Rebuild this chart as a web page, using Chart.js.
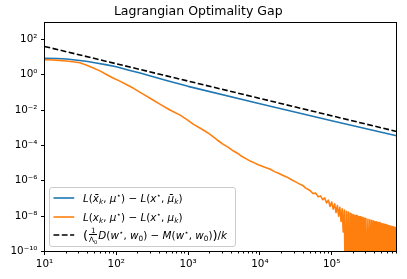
<!DOCTYPE html>
<html><head><meta charset="utf-8">
<script src="https://cdn.jsdelivr.net/npm/chart.js@4.4.0/dist/chart.umd.min.js"></script>
<style>
html,body{margin:0;padding:0;background:#fff;}
#wrap{position:relative;width:407px;height:279px;}
#legend{position:absolute;left:49px;top:187px;width:187px;height:60px;box-sizing:border-box;border:1px solid #cccccc;border-radius:3px;background:rgba(255,255,255,0.8);font-family:'DejaVu Sans';font-size:10.4px;color:#000;}
.row{position:absolute;left:0;width:185px;height:18px;}
.row svg{position:absolute;left:3px;top:7px;}
.t{position:absolute;left:33px;top:0;line-height:18px;white-space:nowrap;}
.t i{font-style:italic;}
sub,sup{font-size:0.7em;line-height:0;}
sub{vertical-align:-0.3em;}
sup{vertical-align:0.55em;}
.big{font-size:13px;position:relative;top:0.5px;}
.frac{display:inline-flex;flex-direction:column;align-items:center;font-size:7.3px;line-height:1;vertical-align:middle;margin:0 1px 0 1px;position:relative;top:-1px;}
.den{border-top:0.8px solid #000;padding-top:0.5px;}
</style>
</head><body>
<div id="wrap">
<canvas id="c" width="407" height="279"></canvas>
<div id="legend">
  <div class="row" style="top:1px">
    <svg width="22" height="4"><line x1="0.5" y1="2" x2="21.2" y2="2" stroke="#1f77b4" stroke-width="1.6"/></svg>
    <span class="t"><i>L</i>(<i>x̄</i><sub><i>k</i></sub>, <i>μ</i><sup>⋆</sup>) − <i>L</i>(<i>x</i><sup>⋆</sup>, <i>μ̄</i><sub><i>k</i></sub>)</span>
  </div>
  <div class="row" style="top:19.5px">
    <svg width="22" height="4"><line x1="0.5" y1="2" x2="21.2" y2="2" stroke="#ff7f0e" stroke-width="1.6"/></svg>
    <span class="t"><i>L</i>(<i>x</i><sub><i>k</i></sub>, <i>μ</i><sup>⋆</sup>) − <i>L</i>(<i>x</i><sup>⋆</sup>, <i>μ</i><sub><i>k</i></sub>)</span>
  </div>
  <div class="row" style="top:38px">
    <svg width="22" height="4"><line x1="0.5" y1="2" x2="21.2" y2="2" stroke="#000" stroke-width="1.6" stroke-dasharray="5.8 2.5"/></svg>
    <span class="t"><span class="big">(</span><span class="frac"><span>1</span><span class="den">Λ<sub>0</sub></span></span><i>D</i>(<i>w</i><sup>⋆</sup>, <i>w</i><sub>0</sub>) − <i>M</i>(<i>w</i><sup>⋆</sup>, <i>w</i><sub>0</sub>)<span class="big">)</span>/<i>k</i></span>
  </div>
</div>
</div>
<script>
// ---- axis ranges and tick labels ----
const xMin = 10, xMax = 8e5;
const yMin = 1e-10, yMax = 900;
const xMajorTicks = [1e1, 1e2, 1e3, 1e4, 1e5];
const xMajorLabels = ['10¹', '10²', '10³', '10⁴', '10⁵'];
const yMajorTicks = [1e-10, 1e-8, 1e-6, 1e-4, 1e-2, 1e0, 1e2];
const yMajorLabels = ['10⁻¹⁰', '10⁻⁸', '10⁻⁶', '10⁻⁴', '10⁻²', '10⁰', '10²'];

// ---- series (k, value) ----
const boundPoints = [[10, 40], [8e5, 6.2e-4]];
const averagedPoints = [
  [10, 8.4], [15, 8.2], [20, 7.7], [25, 7.0], [31, 6.4], [40, 5.6], [50, 4.8],
  [74, 3.6], [100, 2.8], [150, 1.8], [215, 1.25], [300, 0.85], [500, 0.47],
  [1000, 0.22], [1e4, 0.023], [1e5, 2.5e-3], [8e5, 3.5e-4]
];
const F = 1e-12; // oscillation troughs that dip below the axis floor
const lastIteratePoints = [
  [10, 7.0], [13, 6.8], [16, 6.5], [20, 6.0], [25, 5.4], [31, 4.8], [38, 3.6],
  [48, 2.4], [60, 1.6], [74, 1.0], [90, 0.65], [114, 0.42], [140, 0.27],
  [174, 0.17], [230, 0.085], [312, 0.041], [410, 0.021], [550, 0.0105],
  [776, 0.0052], [1000, 0.0026], [1190, 0.00155], [1630, 0.00075],
  [2000, 0.00044], [2520, 0.00021], [3090, 0.000115], [3600, 8e-5], [4290, 4.8e-5],
  [5000, 3.4e-5], [5500, 2.5e-5], [6400, 1.8e-5], [7330, 1.3e-5], [8500, 1.0e-5],
  [9500, 8e-6], [11000, 6.4e-6], [12500, 5.3e-6], [14000, 4.5e-6],
  [16000, 3.3e-6], [18500, 2.6e-6], [21100, 2.0e-6], [24000, 1.6e-6],
  [28000, 1.1e-6], [31000, 9.0e-7], [36400, 6.3e-7], [40000, 5.3e-7],
  [43000, 4.0e-7],
  [50000, 2.8e-7], [55000, 1.9e-7], [60000, 2.0e-7], [65000, 1.26e-7],
  [70000, 1.4e-7], [75000, 8.5e-8], [80000, 1.07e-7], [85000, 5.6e-8],
  [90000, 8.1e-8], [95000, 3.5e-8], [100000, 6.3e-8], [105000, 2.5e-8],
  [110000, 5.0e-8], [115000, 1.6e-8], [120000, 4.0e-8], [125000, 1.0e-8],
  [130000, 3.2e-8], [135000, 5e-9], [140000, 2.6e-8], [145000, 1.26e-9],
  [150000, 2.2e-8],
  [155000, F], [160000, 1.9e-8], [165000, F], [170000, 1.7e-8], [175000, F],
  [180000, 1.5e-8], [185000, F], [190000, 1.35e-8], [195000, F], [200000, 1.2e-8],
  [205000, F], [210000, 1.12e-8], [215000, F], [220000, 1.07e-8], [225000, F],
  [230000, 1.0e-8], [235000, F], [240000, 9.5e-9], [245000, F], [250000, 9.1e-9],
  [255000, F], [260000, 8.7e-9], [265000, F], [270000, 8.3e-9], [275000, F],
  [280000, 7.9e-9], [285000, F], [290000, 7.6e-9], [295000, F], [300000, 7.3e-9],
  [310000, F], [320000, 6.7e-9], [330000, F], [340000, 6.2e-9], [350000, F],
  [360000, 5.8e-9], [370000, F], [380000, 5.4e-9], [390000, F], [400000, 5.0e-9],
  [410000, F], [420000, 4.8e-9], [430000, F], [440000, 4.5e-9], [450000, F],
  [460000, 4.3e-9], [470000, F], [480000, 4.0e-9], [490000, F], [500000, 3.8e-9],
  [510000, F], [520000, 3.6e-9], [530000, F], [540000, 3.5e-9], [550000, F],
  [560000, 3.3e-9], [570000, F], [580000, 3.2e-9], [590000, F], [600000, 3.0e-9],
  [610000, F], [620000, 2.9e-9], [630000, F], [640000, 2.8e-9], [650000, F],
  [660000, 2.7e-9], [670000, F], [680000, 2.6e-9], [690000, F], [700000, 2.5e-9],
  [710000, F], [720000, 2.4e-9], [730000, F], [740000, 2.35e-9], [750000, F],
  [760000, 2.25e-9], [770000, F], [780000, 2.2e-9], [790000, F], [800000, 2.1e-9],
  [810000, F], [820000, 2.05e-9]
];

// ---- tick positions (majors + log minors on x) ----
const xMinorTicks = [];
for (let d = 1; d <= 5; d++) for (let m = 2; m <= 9; m++) {
  const v = m * Math.pow(10, d); if (v <= xMax) xMinorTicks.push(v);
}
const xTickValues = xMajorTicks.concat(xMinorTicks).sort((a, b) => a - b);
function majorIndex(list, v) {
  for (let i = 0; i < list.length; i++) if (Math.abs(Math.log10(v) - Math.log10(list[i])) < 1e-9) return i;
  return -1;
}
const tickFont = { family: 'DejaVu Sans', size: 10.4 };
const toXY = pts => pts.map(p => ({ x: p[0], y: p[1] }));

const axesPlugin = {
  id: 'axesFrame',
  afterDatasetsDraw(chart) {
    const { ctx, chartArea: a, scales } = chart;
    ctx.save();
    ctx.strokeStyle = '#000';
    ctx.lineWidth = 1;
    ctx.beginPath();
    xTickValues.forEach(v => {
      const px = Math.floor(scales.x.getPixelForValue(v)) + 0.5;
      const len = majorIndex(xMajorTicks, v) >= 0 ? 3.5 : 2;
      ctx.moveTo(px, a.bottom); ctx.lineTo(px, a.bottom + len);
    });
    yMajorTicks.forEach(v => {
      const py = Math.floor(scales.y.getPixelForValue(v)) + 0.5;
      ctx.moveTo(a.left, py); ctx.lineTo(a.left - 3.5, py);
    });
    ctx.stroke();
    ctx.strokeRect(a.left, a.top, a.right - a.left, a.bottom - a.top);
    ctx.restore();
  }
};

const lineBase = { pointRadius: 0, borderWidth: 1.6, tension: 0, fill: false, clip: 0, borderJoinStyle: 'round', borderCapStyle: 'butt' };

new Chart(document.getElementById('c'), {
  type: 'line',
  data: {
    datasets: [
      Object.assign({ label: 'averaged', data: toXY(averagedPoints), borderColor: '#1f77b4', order: 2 }, lineBase),
      Object.assign({ label: 'last iterate', data: toXY(lastIteratePoints), borderColor: '#ff7f0e', order: 1 }, lineBase),
      Object.assign({ label: 'bound', data: toXY(boundPoints), borderColor: '#000000', borderDash: [5.8, 2.5], order: 0 }, lineBase)
    ]
  },
  options: {
    responsive: false, animation: false, devicePixelRatio: 1,
    layout: { padding: { left: 0, right: 10.5, top: 0, bottom: 0 } },
    plugins: {
      legend: { display: false },
      tooltip: { enabled: false },
      title: {
        display: true, text: 'Lagrangian Optimality Gap', color: '#000',
        font: { family: 'DejaVu Sans', size: 12.5, weight: 'normal', lineHeight: 1.2 },
        padding: { top: 4.5, bottom: 3 }
      }
    },
    scales: {
      x: {
        type: 'logarithmic', min: xMin, max: xMax,
        afterFit: s => { s.height = 27.5; },
        afterBuildTicks: s => { s.ticks = xTickValues.map(v => ({ value: v })); },
        ticks: {
          autoSkip: false, maxRotation: 0, minRotation: 0, color: '#000', font: tickFont, padding: 3.5,
          callback: v => { const i = majorIndex(xMajorTicks, v); return i >= 0 ? xMajorLabels[i] : ''; }
        },
        grid: { display: true, drawOnChartArea: false, drawTicks: true, tickLength: 3.5, tickColor: 'rgba(0,0,0,0)', color: 'rgba(0,0,0,0)' },
        border: { display: false }
      },
      y: {
        type: 'logarithmic', min: yMin, max: yMax,
        afterFit: s => { s.width = 44.5; },
        afterBuildTicks: s => { s.ticks = yMajorTicks.map(v => ({ value: v })); },
        ticks: {
          autoSkip: false, color: '#000', font: tickFont, padding: 3.5,
          callback: v => { const i = majorIndex(yMajorTicks, v); return i >= 0 ? yMajorLabels[i] : ''; }
        },
        grid: { display: true, drawOnChartArea: false, drawTicks: true, tickLength: 3.5, tickColor: 'rgba(0,0,0,0)', color: 'rgba(0,0,0,0)' },
        border: { display: false }
      }
    }
  },
  plugins: [axesPlugin]
});
</script>
</body></html>
